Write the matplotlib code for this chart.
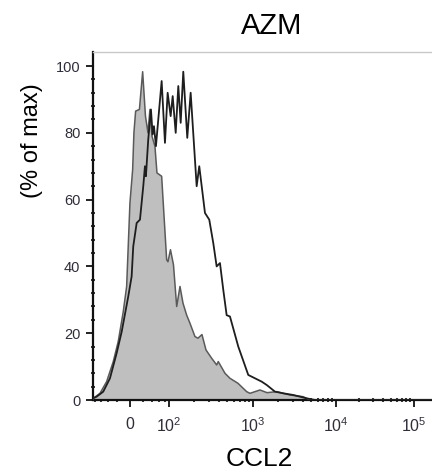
import numpy as np
import matplotlib
matplotlib.use('Agg')
import matplotlib.pyplot as plt
from matplotlib.ticker import FixedLocator, NullFormatter

plt.rcParams['font.family'] = ['Liberation Sans', 'DejaVu Sans']
plt.rcParams['mathtext.fontset'] = 'custom'
plt.rcParams['mathtext.rm'] = 'Liberation Sans'
plt.rcParams['mathtext.it'] = 'Liberation Sans:italic'
plt.rcParams['mathtext.bf'] = 'Liberation Sans:bold'

# ---- data (CCL2 intensity, % of max) ----
ctrl_x = [-90, -88.8, -62.2, -42.5, -27.5, -18.3, -10.1, -4.9, 0, 4.0, 5.9, 8.5, 14.5,
          20.0, 25.2, 30.2, 34.5, 39.2, 46.9, 52.7, 68.2, 88.8, 95.0, 104.4, 113.6,
          124.3, 136.3, 148.1, 164.0, 179.5, 205.9, 223.6, 249.5, 278.4, 325.1, 372.5,
          389.3, 467.3, 535, 665.5, 842.7, 921.5, 1214, 1475, 1930, 2791, 4004, 4860,
          170000]
ctrl_y = [0.3, 0.5, 2, 5.5, 11.5, 17.5, 26.4, 34, 59, 69, 80, 86.5, 87, 98.3, 85, 80,
          87, 79, 76, 68, 67, 42, 41.4, 45, 40.5, 28, 34, 29, 25.4, 23, 19, 18.5, 19.6,
          15, 12.5, 10.5, 11.5, 8, 6.5, 5, 2.5, 2, 3, 2.2, 2.5, 1.5, 1, 0, 0]

azm_x = [-90, -74.3, -51.8, -34.5, -21.1, -12.6, -4.9, -2.5, 0, 2.5, 4.9, 10.1, 15.4,
         21.1, 24.2, 26.1, 30.8, 36.8, 40.9, 44.3, 49.7, 68.2, 81.3, 93.5, 104.9, 111.1,
         120.9, 130.0, 138.9, 149.3, 166.7, 183.0, 215.8, 231.7, 270.9, 304.6, 339.7,
         372.5, 407.7, 446, 489, 535, 670.6, 880, 1273, 1463, 1841, 2318, 3059, 4436,
         5585, 170000]
azm_y = [0.5, 1, 2.5, 6.5, 14, 20.4, 28.4, 31, 34, 37, 46, 53, 54, 64, 70, 67, 78, 87,
         79.5, 82, 76, 95.5, 77, 92, 85, 91, 80, 94, 83, 98.3, 78.5, 92, 64, 70, 56, 54,
         47, 40, 41, 33, 25.4, 25, 16, 7.5, 5.5, 4.5, 2.5, 2, 1.5, 0.5, 0, 0]

x_ticks = [0, 100, 1000, 10000, 100000]
x_ticklabels = ['0', r'$10^2$', r'$10^3$', r'$10^4$', r'$10^5$']
y_ticks = [0, 20, 40, 60, 80, 100]

# ---- biexponential-like display scale ----
C = 30.0
anchor_v = np.array([-1000.0, 0.0, 100.0, 1000.0, 1e4, 1e5, 1e6])
anchor_p = np.array([44.7, 130.0, 169.0, 253.0, 336.0, 414.0, 492.0])
anchor_u = np.arcsinh(anchor_v / C)


def fwd(v):
    return np.interp(np.arcsinh(np.asarray(v, float) / C), anchor_u, anchor_p)


def inv(p):
    return C * np.sinh(np.interp(np.asarray(p, float), anchor_p, anchor_u))


W, H = 432, 475
fig = plt.figure(figsize=(W / 100, H / 100), dpi=100)
ax = fig.add_axes([93 / W, 1 - 400 / H, (432 - 93) / W, (400 - 52) / H])
ax.set_xscale('function', functions=(fwd, inv))

ax.fill_between(ctrl_x, ctrl_y, 0, facecolor='#bfbfbf', edgecolor='none', zorder=2)
ax.plot(ctrl_x, ctrl_y, color='#5a5a5a', lw=1.1, zorder=3)
ax.plot(azm_x, azm_y, color='#1e1e1e', lw=1.3, zorder=4)

ax.set_xlim(-90, 170000)
ax.set_ylim(0, 104.2)

ax.xaxis.set_major_locator(FixedLocator(x_ticks))
ax.set_xticklabels(x_ticklabels)
minor_x = [v for v in range(-80, 0, 20)] + [v for v in range(20, 100, 20)]
for d in [100, 1000, 10000]:
    minor_x += [k * d for k in range(2, 10)]
ax.xaxis.set_minor_locator(FixedLocator(minor_x))
ax.xaxis.set_minor_formatter(NullFormatter())

ax.set_yticks(y_ticks)
ax.yaxis.set_minor_locator(FixedLocator([v for v in range(0, 104, 4) if v % 20]))

for s in ['left', 'bottom']:
    ax.spines[s].set_linewidth(1.6)
    ax.spines[s].set_color('#111111')
ax.spines['right'].set_visible(False)
ax.spines['top'].set_color('#c8c8c8')
ax.spines['top'].set_linewidth(1.0)

ax.tick_params(axis='both', which='major', direction='out', length=5, width=1.3,
               color='#111111', labelcolor='#2e2e3a')
ax.tick_params(axis='x', which='major', pad=7, labelsize=11.5)
ax.tick_params(axis='y', which='major', pad=4, labelsize=10.5)
ax.tick_params(axis='both', which='minor', direction='inout', length=3, width=1.2,
               color='#111111')

fig.text(272 / W, 1 - 26 / H, 'AZM', ha='center', va='center', fontsize=21)
fig.text(259 / W, 1 - 459 / H, 'CCL2', ha='center', va='center', fontsize=19)
fig.text(32 / W, 1 - 141 / H, '(% of max)', ha='center', va='center', fontsize=17,
         rotation=90)

fig.savefig('out.png', dpi=100)
